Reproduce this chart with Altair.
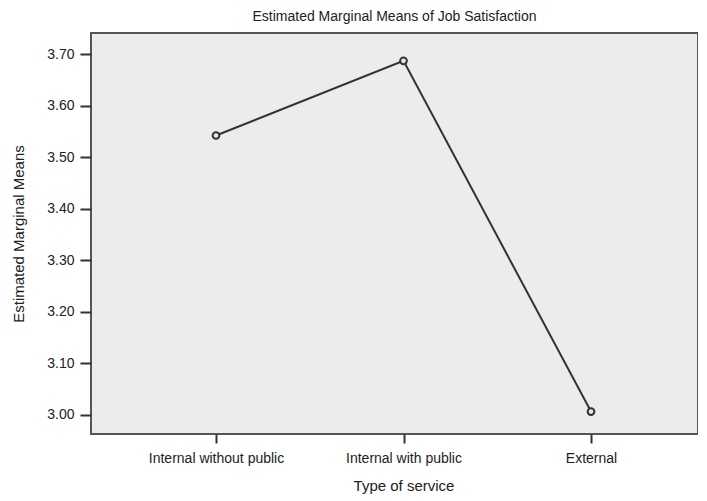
import altair as alt
import pandas as pd

categories = ["Internal without public", "Internal with public", "External"]
means = [3.542, 3.687, 3.006]
y_ticks = [3.0, 3.1, 3.2, 3.3, 3.4, 3.5, 3.6, 3.7]

df = pd.DataFrame({"service": categories, "mean": means})

FONT = "Liberation Sans"

x_enc = alt.X(
    "service:N",
    sort=categories,
    scale=alt.Scale(type="point", range=[125, 500], padding=0),
    axis=alt.Axis(
        title="Type of service",
        labelAngle=0,
        tickSize=9,
        labelPadding=8,
        titlePadding=13,
        domain=False,
    ),
)
y_enc = alt.Y(
    "mean:Q",
    scale=alt.Scale(domain=[2.9625, 3.741], nice=False, zero=False),
    axis=alt.Axis(
        title="Estimated Marginal Means",
        values=y_ticks,
        format=".2f",
        tickSize=11,
        labelPadding=6,
        titlePadding=20,
        grid=False,
        domain=False,
    ),
)

line = alt.Chart(df).mark_line(color="#333333", strokeWidth=2).encode(x=x_enc, y=y_enc)
pts = alt.Chart(df).mark_point(
    shape="circle", size=45, filled=False, color="#333333", strokeWidth=2, fill="#e8e8e8", fillOpacity=1
).encode(x=x_enc, y=y_enc)

chart = (
    alt.layer(line, pts)
    .properties(
        width=607,
        height=401,
        title=alt.Title("Estimated Marginal Means of Job Satisfaction", fontSize=14, fontWeight="normal",
                        font=FONT, color="#222222", offset=9),
        padding={"left": 83, "top": 25, "right": 0, "bottom": 66},
        autosize=alt.AutoSizeParams(type="none"),
        background="white",
    )
    .configure_view(fill="#ececec", stroke="#555555", strokeWidth=2)
    .configure_axis(
        labelFont=FONT,
        titleFont=FONT,
        labelFontSize=14,
        titleFontSize=15,
        titleFontWeight="normal",
        labelColor="#222222",
        titleColor="#222222",
        tickColor="#333333",
        tickWidth=2,
    )
)

chart.save("out.html", embed_options={"renderer": "svg", "actions": False})
